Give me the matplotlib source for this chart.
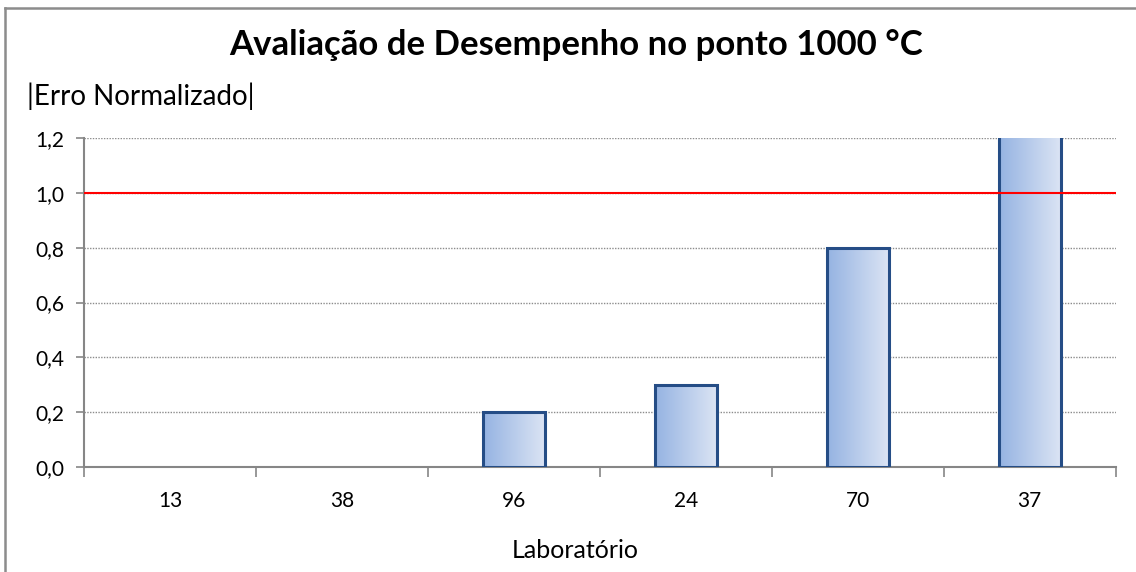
import numpy as np
import matplotlib
matplotlib.use("Agg")
import matplotlib.pyplot as plt
from matplotlib.lines import Line2D

# Data
labs = ["13", "38", "96", "24", "70", "37"]
erro = [0.0, 0.0, 0.2, 0.3, 0.8, 1.3]  # last bar runs off the top
limite = 1.0

plt.rcParams['font.family'] = ['Lato', 'DejaVu Sans']

fig = plt.figure(figsize=(11.36, 5.72), dpi=100)
ax = fig.add_axes([0.074, 0.1836, 0.908, 0.5751])

# gradient for bar fill (left darker, right lighter)
grad = np.linspace(0, 1, 256).reshape(1, -1)
cmap = matplotlib.colors.LinearSegmentedColormap.from_list("bar", ["#95b3e2", "#dbe4f4"])

x = np.arange(len(labs))
w = 0.36
ymax = 1.2
for xi, v in zip(x, erro):
    if v <= 0:
        continue
    bar = ax.bar(xi, v, width=w, color="none", edgecolor="#254d86", linewidth=2.2, zorder=4)[0]
    top = min(v, ymax)
    im = ax.imshow(grad, extent=[xi - w / 2, xi + w / 2, 0, top], aspect="auto",
                   cmap=cmap, zorder=3)

ax.axhline(limite, color="#ff0000", linewidth=1.5, zorder=5)

ax.set_xlim(-0.5, len(labs) - 0.5)
ax.set_ylim(0, ymax)
yt = np.arange(0, 1.21, 0.2)
ax.set_yticks(yt)
ax.set_yticklabels([f"{t:.1f}".replace(".", ",") for t in yt])
ax.yaxis.grid(True, linestyle=(0, (1, 1)), color="#8c8c8c", linewidth=1)
ax.set_axisbelow(True)

ax.set_xticks(np.arange(-0.5, len(labs) - 0.4, 1))
ax.set_xticklabels([])
ax.set_xticks(x, minor=True)
ax.set_xticklabels(labs, minor=True)
ax.tick_params(axis="x", which="minor", length=0, pad=17, labelsize=15)
ax.tick_params(axis="x", which="major", length=7, color="#868686", width=1.2)
ax.tick_params(axis="y", length=6, color="#868686", width=1.2, labelsize=15, pad=8)

for s in ["top", "right"]:
    ax.spines[s].set_visible(False)
for s in ["left", "bottom"]:
    ax.spines[s].set_color("#868686")
    ax.spines[s].set_linewidth(1.5)

fig.text(0.507, 0.922, "Avaliação de Desempenho no ponto 1000 °C", ha="center", va="center",
         fontsize=25, fontweight="bold")
fig.text(0.024, 0.832, "|Erro Normalizado|", ha="left", va="center", fontsize=20)
fig.text(0.506, 0.038, "Laboratório", ha="center", va="center", fontsize=18)

# chart frame (only top and left edges are visible in the crop)
fig.lines.append(Line2D([5 / 1136, 1.0], [1 - 8 / 572, 1 - 8 / 572], transform=fig.transFigure,
                        color="#8c8c8c", linewidth=1.8))
fig.lines.append(Line2D([5 / 1136, 5 / 1136], [0.0, 1 - 8 / 572], transform=fig.transFigure,
                        color="#8c8c8c", linewidth=1.8))

fig.savefig("out.png", dpi=100)
